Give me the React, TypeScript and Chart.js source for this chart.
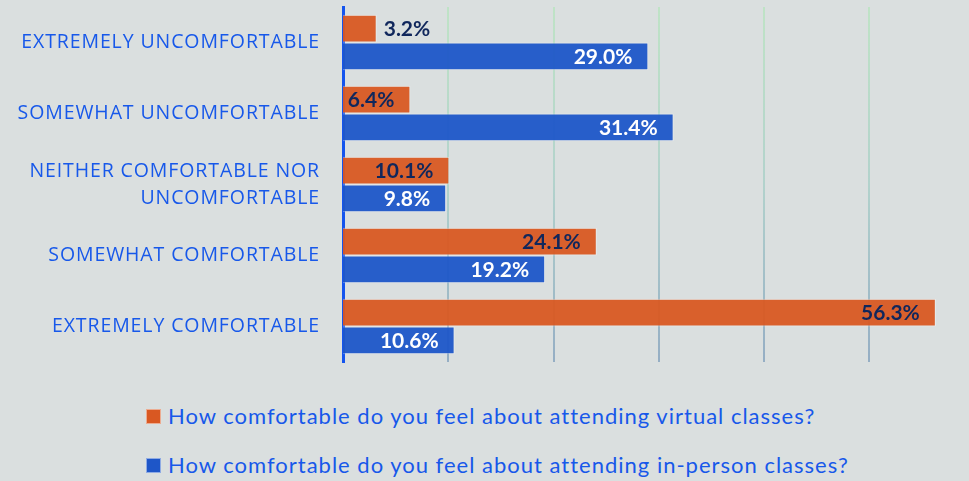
import React, { useEffect, useRef } from "react";
import { Chart, registerables } from "chart.js";

Chart.register(...registerables);

const categories: (string | string[])[] = [
  "EXTREMELY UNCOMFORTABLE",
  "SOMEWHAT UNCOMFORTABLE",
  ["NEITHER COMFORTABLE NOR", "UNCOMFORTABLE"],
  "SOMEWHAT COMFORTABLE",
  "EXTREMELY COMFORTABLE",
];
const virtualValues = [3.2, 6.4, 10.1, 24.1, 56.3];
const inPersonValues = [29.0, 31.4, 9.8, 19.2, 10.6];
const seriesNames = [
  "How comfortable do you feel about attending virtual classes?",
  "How comfortable do you feel about attending in-person classes?",
];

const BG = "#dadfdf";
const ORANGE = "rgba(217,88,34,0.95)";
const BLUE = "rgba(30,86,200,0.95)";
const TEXT_BLUE = "#1758ea";
const NAVY = "#10275c";

const spacing = {
  id: "spacing",
  beforeDraw(chart: any) {
    chart.ctx.letterSpacing = "0.9px";
  },
  afterDraw(chart: any) {
    chart.ctx.letterSpacing = "0px";
  },
};

const valueLabels = {
  id: "valueLabels",
  afterDatasetsDraw(chart: any) {
    const ctx = chart.ctx;
    ctx.save();
    ctx.letterSpacing = "0px";
    ctx.font = "bold 21px Lato";
    ctx.textBaseline = "middle";
    chart.data.datasets.forEach((ds: any, di: number) => {
      const meta = chart.getDatasetMeta(di);
      meta.data.forEach((el: any, i: number) => {
        const v = ds.data[i];
        const text = v.toFixed(1) + "%";
        const w = ctx.measureText(text).width;
        const barW = el.x - el.base;
        if (barW < w + 20) {
          ctx.textAlign = "left";
          ctx.fillStyle = NAVY;
          ctx.fillText(text, el.x + 7, el.y + 1);
        } else {
          ctx.textAlign = "right";
          ctx.fillStyle = di === 0 ? NAVY : "#ffffff";
          ctx.fillText(text, el.x - 16, el.y + 1);
        }
      });
    });
    ctx.restore();
  },
};

export default function App() {
  const ref = useRef<HTMLCanvasElement>(null);
  useEffect(() => {
    if (!ref.current) return;
    const chart = new Chart(ref.current, {
      type: "bar",
      data: {
        labels: categories,
        datasets: [
          {
            label: seriesNames[0],
            data: virtualValues,
            backgroundColor: ORANGE,
            borderColor: "rgba(255,255,255,0.45)",
            borderWidth: 1,
          },
          {
            label: seriesNames[1],
            data: inPersonValues,
            backgroundColor: BLUE,
            borderColor: "rgba(255,255,255,0.45)",
            borderWidth: 1,
          },
        ],
      },
      plugins: [spacing, valueLabels],
      options: {
        indexAxis: "y",
        animation: false,
        responsive: false,
        maintainAspectRatio: false,
        categoryPercentage: 0.78,
        barPercentage: 1,
        layout: { padding: { top: 7, bottom: 8, left: 0, right: 0 } },
        plugins: {
          legend: { display: false },
          tooltip: { enabled: false },
        },
        scales: {
          x: {
            min: 0,
            max: 59.45,
            ticks: { display: false, stepSize: 10 },
            border: { display: false },
            afterFit: (s: any) => {
              s.paddingLeft = 0;
              s.paddingRight = 0;
            },
            grid: {
              drawTicks: false,
              lineWidth: (c: any) =>
                c.tick && c.tick.value > 0 && Math.abs(c.tick.value % 10) < 1e-6 ? 2 : 0,
              color: (c: any) => {
                const ch = c.chart;
                const area = ch.chartArea;
                if (!area) return "#b0c8c0";
                const g = ch.ctx.createLinearGradient(0, area.top, 0, area.bottom);
                g.addColorStop(0, "#bfe3c6");
                g.addColorStop(0.5, "#b2d2cc");
                g.addColorStop(1, "#95aec4");
                return g;
              },
            },
          },
          y: {
            afterFit: (s: any) => {
              s.width = 343;
              s.paddingTop = 0;
              s.paddingBottom = 0;
            },
            grid: { display: false, drawTicks: false },
            border: { display: true, color: "#1454ee", width: 3 },
            ticks: {
              padding: 23,
              color: TEXT_BLUE,
              font: { family: "Open Sans", size: 19.5, lineHeight: 1.38 },
            },
          },
        },
      },
    });
    return () => chart.destroy();
  }, []);

  const legendRow = (color: string, text: string, top: number) => (
    <div
      style={{
        position: "absolute",
        left: 146,
        top,
        display: "flex",
        alignItems: "center",
        whiteSpace: "nowrap",
      }}
    >
      <span
        style={{
          display: "inline-block",
          width: 13,
          height: 13,
          background: color,
          border: "1px solid rgba(255,255,255,0.5)",
          marginRight: 7,
        }}
      />
      <span
        style={{
          fontFamily: "Lato",
          fontSize: 22,
          color: TEXT_BLUE,
          lineHeight: "24px",
          letterSpacing: 1,
        }}
      >
        {text}
      </span>
    </div>
  );

  return (
    <div
      style={{
        position: "fixed",
        left: 0,
        top: 0,
        width: 969,
        height: 481,
        background: BG,
        overflow: "hidden",
      }}
    >
      <canvas
        ref={ref}
        width={969}
        height={370}
        style={{ position: "absolute", left: 0, top: 0, width: 969, height: 370 }}
      />
      {legendRow("#d95822", seriesNames[0], 404)}
      {legendRow("#1e56c8", seriesNames[1], 453)}
    </div>
  );
}
